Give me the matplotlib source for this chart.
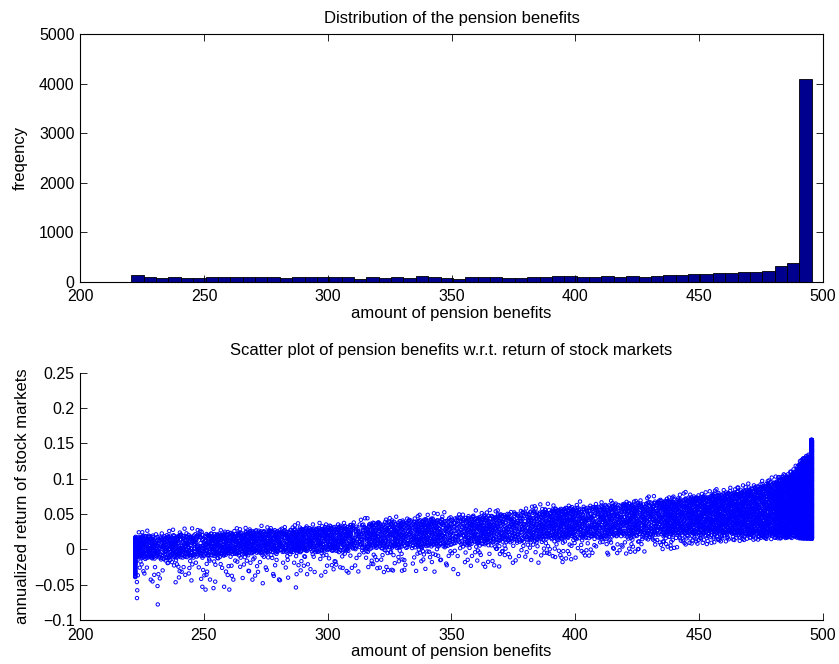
import matplotlib
matplotlib.use("Agg")
import matplotlib.pyplot as plt
import numpy as np

plt.rcParams['font.family'] = ['Liberation Sans', 'DejaVu Sans']
plt.rcParams['font.size'] = 11.5

# histogram: 55 equal bins, edges
bin_start = 220.6
bin_width = 5.0
counts = [140, 88, 67, 94, 81, 67, 88, 94, 88, 101, 88, 88, 81, 101, 88, 88, 88, 88,
          61, 88, 81, 88, 74, 108, 94, 74, 61, 88, 101, 88, 81, 74, 88, 101, 114, 114, 94,
          88, 108, 94, 121, 101, 108, 141, 128, 155, 155, 175, 175, 189, 189, 209, 316, 384,
          4100]

# scatter band per histogram bin (top of dense part, bottom of dense part, end of low tail),
# read off the bottom panel
band_hi = [0.018, 0.019, 0.019, 0.020, 0.021, 0.022, 0.022, 0.023, 0.024, 0.025,
           0.026, 0.027, 0.028, 0.029, 0.030, 0.031, 0.032, 0.034, 0.036, 0.037,
           0.039, 0.040, 0.041, 0.042, 0.043, 0.044, 0.045, 0.046, 0.047, 0.049,
           0.050, 0.052, 0.054, 0.056, 0.057, 0.058, 0.059, 0.060, 0.062, 0.063,
           0.065, 0.066, 0.068, 0.069, 0.071, 0.073, 0.075, 0.077, 0.080, 0.083,
           0.087, 0.092, 0.098, 0.106, 0.125]
band_lo = [-0.012, -0.013, -0.013, -0.012, -0.011, -0.010, -0.009, -0.008, -0.007, -0.006,
           -0.005, -0.005, -0.004, -0.003, -0.003, -0.002, -0.002, -0.001, 0.000, 0.001,
           0.001, 0.002, 0.003, 0.003, 0.004, 0.005, 0.006, 0.007, 0.008, 0.009,
           0.010, 0.011, 0.013, 0.014, 0.015, 0.016, 0.016, 0.017, 0.018, 0.019,
           0.020, 0.020, 0.021, 0.022, 0.023, 0.023, 0.024, 0.024, 0.024, 0.024,
           0.024, 0.024, 0.025, 0.025, 0.020]
band_tail = [-0.050, -0.050, -0.048, -0.048, -0.048, -0.048, -0.048, -0.047, -0.047, -0.046,
             -0.046, -0.045, -0.044, -0.042, -0.040, -0.038, -0.037, -0.036, -0.035, -0.034,
             -0.033, -0.032, -0.032, -0.032, -0.032, -0.031, -0.030, -0.029, -0.027, -0.025,
             -0.023, -0.021, -0.020, -0.019, -0.018, -0.016, -0.013, -0.011, -0.009, -0.007,
             -0.005, -0.003, -0.001, 0.001, 0.003, 0.005, 0.007, 0.009, 0.011, 0.012,
             0.013, 0.014, 0.015, 0.016, 0.015]

# piles at the lowest and highest benefit (vertical stripes in the scatter)
x_min, x_max = 222.3, 495.5
low_pile = 60
low_pile_y = (-0.040, 0.018)
high_pile = 3000
high_pile_y = (0.015, 0.155)

# isolated outliers
out_x = [223.0, 231.4, 223.1, 231.3, 249.4, 250.7, 253.9, 260.3, 258.2, 287.2, 245.0,
         273.8, 325.9, 331.0, 352.7, 394.9, 420.6, 438.7, 444.6, 456.5]
out_y = [-0.069, -0.078, -0.058, -0.052, -0.053, -0.057, -0.055, -0.057, -0.053, -0.054,
         -0.044, -0.048, -0.029, -0.029, -0.035, -0.018, -0.006, 0.001, 0.081, 0.083]

edges = bin_start + bin_width * np.arange(len(counts) + 1)
centers = (edges[:-1] + edges[1:]) / 2


def halton(idx, base):
    # radical inverse, deterministic low-discrepancy sequence
    idx = np.asarray(idx, dtype=np.int64)
    out = np.zeros(idx.shape)
    f = 1.0 / base
    while np.any(idx > 0):
        out += f * (idx % base)
        idx = idx // base
        f /= base
    return out


# lay each bin's points out over its band
xs, ys = [], []
for k, n in enumerate(counts):
    x0 = max(edges[k], x_min)
    x1 = min(edges[k + 1], x_max - 0.3)
    n_spread = n
    if k == 0:
        n_spread -= low_pile
        i = np.arange(1, low_pile + 1)
        xs.append(np.full(low_pile, x_min))
        ys.append(low_pile_y[0] + (low_pile_y[1] - low_pile_y[0]) * halton(i, 3))
    if k == len(counts) - 1:
        n_spread -= high_pile
        i = np.arange(1, high_pile + 1)
        xs.append(x_max - 0.15 + 0.3 * halton(i, 2))
        ys.append(high_pile_y[0] + (high_pile_y[1] - high_pile_y[0]) * halton(i, 3))
    i = np.arange(n_spread) + 1 + 977 * k
    x = x0 + (x1 - x0) * halton(i, 2)
    v = halton(i, 3)
    c = halton(i, 5)
    hi = np.interp(x, centers, band_hi)
    lo = np.interp(x, centers, band_lo)
    tail = np.interp(x, centers, band_tail)
    y = lo + (hi - lo) * v
    up = (c >= 0.85) & (c < 0.89)
    y[up] = hi[up] + 0.009 * v[up] ** 2
    low = c >= 0.89
    y[low] = lo[low] - (lo[low] - tail[low]) * v[low] ** 1.6
    xs.append(x)
    ys.append(y)
xs.append(np.array(out_x))
ys.append(np.array(out_y))
sx = np.concatenate(xs)
sy = np.concatenate(ys)

fig = plt.figure(figsize=(8.39, 6.64), dpi=100)
ax1 = fig.add_axes([0.0957, 0.5758, 0.8849, 0.3726])
ax2 = fig.add_axes([0.0954, 0.0663, 0.8852, 0.3724])

ax1.bar(centers, counts, width=bin_width, color=(0, 0, 0.5625), edgecolor='black', linewidth=0.6)
ax1.set_xlim(200, 500)
ax1.set_ylim(0, 5000)
ax1.set_xticks(np.arange(200, 501, 50))
ax1.set_yticks(np.arange(0, 5001, 1000))
ax1.tick_params(direction='in', length=5, width=0.6, top=True, right=True, pad=4)
ax1.tick_params(axis='x', pad=5.5)
ax1.set_title('Distribution of the pension benefits', fontsize=12, pad=8)
ax1.set_xlabel('amount of pension benefits', fontsize=12, labelpad=1)
ax1.set_ylabel('freqency', fontsize=12, labelpad=8)

ax2.scatter(sx, sy, s=6, facecolors='none', edgecolors=(0, 0, 1), linewidths=0.7)
ax2.set_xlim(200, 500)
ax2.set_ylim(-0.1, 0.25)
ax2.set_xticks(np.arange(200, 501, 50))
ax2.set_yticks(np.arange(-0.1, 0.2501, 0.05))
ax2.yaxis.set_major_formatter(plt.FuncFormatter(lambda v, p: ('%g' % round(v, 3)).replace('-', '\u2212')))
ax2.spines['top'].set_visible(False)
ax2.spines['right'].set_visible(False)
ax2.tick_params(direction='in', length=5, width=0.6, pad=4)
ax2.tick_params(axis='x', pad=5.5)
ax2.set_title('Scatter plot of pension benefits w.r.t. return of stock markets', fontsize=12, pad=13)
ax2.set_xlabel('amount of pension benefits', fontsize=12, labelpad=1)
ax2.set_ylabel('annualized return of stock markets', fontsize=12, labelpad=3)

for ax in (ax1, ax2):
    for s in ax.spines.values():
        s.set_linewidth(0.8)

fig.savefig('out.png', dpi=100)
